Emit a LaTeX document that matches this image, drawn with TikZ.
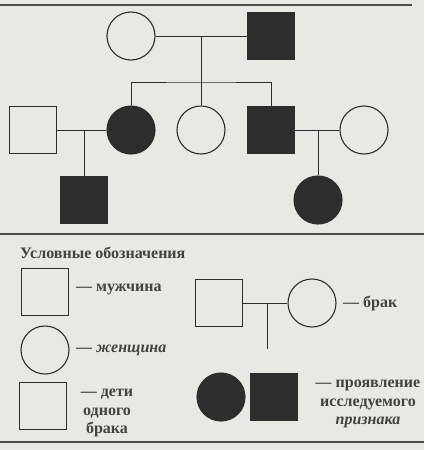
\documentclass[tikz,border=0pt]{standalone}
\usepackage{fontspec}
\setmainfont{Liberation Serif}
\usetikzlibrary{positioning}
\definecolor{paper}{RGB}{232,232,229}
\definecolor{ink}{RGB}{45,45,45}
\tikzset{
    male/.style={rectangle, draw=ink, line width=1.1pt, minimum size=47pt, inner sep=0pt},
    female/.style={circle, draw=ink, line width=1.1pt, minimum size=48pt, inner sep=0pt},
    affected/.style={fill=ink},
    link/.style={draw=ink, line width=1pt},
    legend/.style={font=\fontsize{16}{18.5}\selectfont\bfseries, text=ink!90, inner sep=0pt, align=center},
    rule/.style={draw=ink!85, line width=1.2pt}
}

\begin{document}
\begin{tikzpicture}[x=1pt, y=-1pt]
    \useasboundingbox (0,0) rectangle (424,450);
    \fill[paper] (0,0) rectangle (424,450);

    % Rules
    \draw[rule] (0,5) -- (412,5);
    \draw[rule] (0,234) -- (424,234);
    \draw[rule] (0,442) -- (424,442);

    % Generation I
    \node[female] (gm) at (131,36) {};
    \node[male, affected] (gf) at (271,36) {};

    % Generation II
    \node[male] (h1) at (33,130) {};
    \node[female, affected] (d1) at (131,130) {};
    \node[female] (d2) at (201,130) {};
    \node[male, affected] (s1) at (271,130) {};
    \node[female] (w1) at (364,130) {};

    % Generation III
    \node[male, affected] (c1) at (84,200) {};
    \node[female, affected] (c2) at (318,200) {};

    % Connections
    \coordinate (m1) at (201,36);
    \coordinate (sib) at (201,82);
    \draw[link] (gm) -- (gf);
    \draw[link] (m1) -- (sib);
    \draw[link] (d1.north) |- (sib) -| (s1.north);
    \draw[link] (sib) -- (d2.north);

    \coordinate (m2) at (84,130);
    \draw[link] (h1) -- (d1);
    \draw[link] (m2) -- (c1.north);

    \coordinate (m3) at (318,130);
    \draw[link] (s1) -- (w1);
    \draw[link] (m3) -- (c2.north);

    % Legend
    \node[legend, anchor=west] (title) at (20,253) {Условные обозначения};

    \node[male] (lm) at (45,292) {};
    \node[legend, anchor=west] (lmt) at (76,289) {— мужчина};
    \node[female] (lf) at (45,350) {};
    \node[legend, anchor=west] (lft) at (76,350) {— \textit{женщина}};
    \node[male] (lk) at (43,406) {};
    \node[legend] (lkt) at (107,413) {— дети\\одного\\брака};

    \node[male] (lbm) at (219,303) {};
    \node[female] (lbf) at (312,303) {};
    \coordinate (lb) at (267,303);
    \coordinate (lbe) at (267,349);
    \draw[link] (lbm) -- (lbf);
    \draw[link] (lb) -- (lbe);
    \node[legend, anchor=west] (lbt) at (343,303) {— брак};

    \node[female, affected] (la1) at (221,397) {};
    \node[male, affected] (la2) at (274,397) {};
    \node[legend] (lat) at (368,404) {— проявление\\исследуемого\\\textit{признака}};
\end{tikzpicture}
\end{document}
